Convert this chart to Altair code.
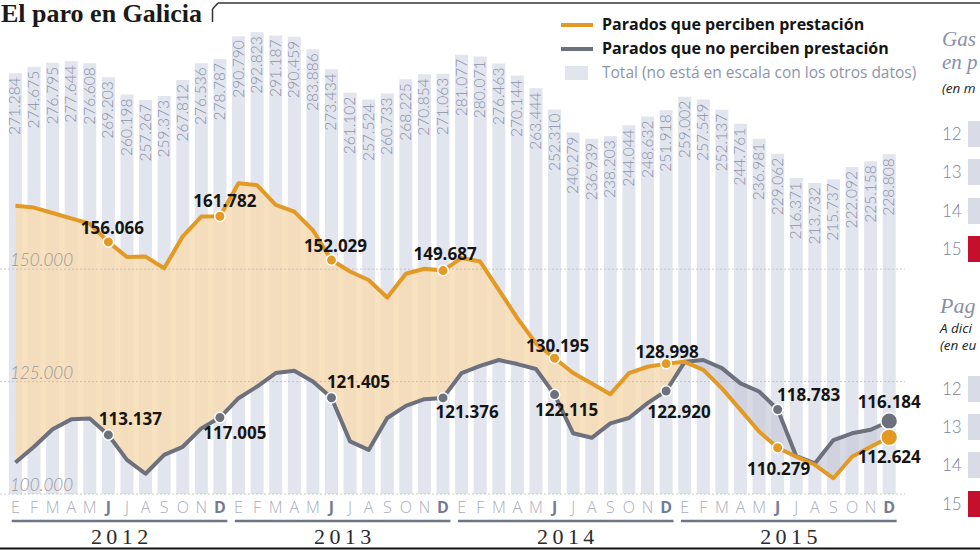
import altair as alt
import pandas as pd

# Paro registrado en Galicia, enero 2012 - diciembre 2015
meses = ["E", "F", "M", "A", "M", "J", "J", "A", "S", "O", "N", "D"]
anios = ["2012", "2013", "2014", "2015"]

total_parados = [
    271284, 274675, 276795, 277644, 276608, 269203, 260198, 257267, 259373, 267812, 276536, 278787,
    290790, 292823, 291187, 290459, 283886, 273434, 261102, 257524, 260733, 268225, 270854, 271063,
    281077, 280071, 276463, 270144, 263444, 252310, 240279, 236939, 238203, 244044, 248632, 251918,
    259002, 257549, 252137, 244761, 236981, 229062, 216371, 213732, 215737, 222092, 225158, 228808,
]
con_prestacion = [
    164100, 163700, 162500, 161300, 160100, 156066, 152700, 152800, 150200, 157300, 161700, 161782,
    169100, 168700, 164300, 162800, 158700, 152029, 149500, 147600, 143700, 149000, 150100, 149687,
    152500, 151700, 145400, 139100, 133500, 130195, 126900, 124600, 122200, 126900, 128300, 128998,
    129400, 127600, 123500, 118700, 113900, 110279, 108300, 106500, 103500, 108300, 110500, 112624,
]
sin_prestacion = [
    107000, 110500, 114400, 116600, 116800, 113137, 107600, 104500, 108700, 110500, 114600, 117005,
    121300, 123900, 126900, 127400, 125000, 121405, 111700, 109800, 116900, 119600, 121100, 121376,
    126900, 128500, 129800, 128900, 127800, 122115, 113500, 112500, 115700, 116900, 120200, 122920,
    129400, 129800, 128000, 124600, 122800, 118783, 108400, 106800, 112000, 113500, 114300, 116184,
]

guias = [150000, 125000, 100000]
guias_txt = ["150.000", "125.000", "100.000"]

leyenda = [
    "Parados que perciben prestación",
    "Parados que no perciben prestación",
    "Total (no está en escala con los otros datos)",
]
filas_panel = ["12", "13", "14", "15"]


def miles(v):
    return f"{v:,}".replace(",", ".")


df = pd.DataFrame({
    "i": list(range(48)),
    "mes": meses * 4,
    "anio": [a for a in anios for _ in range(12)],
    "total": total_parados,
    "con": con_prestacion,
    "sin": sin_prestacion,
})
df["total_txt"] = [miles(v) for v in total_parados]
df["con_txt"] = [miles(v) for v in con_prestacion]
df["sin_txt"] = [miles(v) for v in sin_prestacion]
df["clave"] = [(i % 12) in (5, 11) for i in range(48)]

df_anios = pd.DataFrame({"anio": anios, "ini": [12 * k for k in range(4)]})
df_guias = pd.DataFrame({"v": guias, "txt": guias_txt})
uno = pd.DataFrame({"k": [0]})

W, H = 905, 494
x_esc = alt.Scale(domain=[-0.56, 47.58], nice=False, zero=False)
y_linea = alt.Scale(domain=[100000, 209875], nice=False, zero=False)
y_barra = alt.Scale(domain=[50460, 309780], nice=False, zero=False)

X = alt.X("i:Q", scale=x_esc, axis=None)

NARANJA = "#e39a24"
GRIS = "#6d717e"
BARRA = "#e2e5ee"
TXT_BARRA = "#8a92a7"

base = alt.Chart(df)

barras = base.mark_bar(width=13, color=BARRA).encode(
    x=X,
    y=alt.Y("total:Q", scale=y_barra, axis=None),
    y2=alt.datum(50460),
)
barras_txt = base.mark_text(
    angle=270, align="right", baseline="middle", dx=-4,
    font="Lato", fontWeight=300, fontSize=15.5, color=TXT_BARRA,
).encode(x=X, y=alt.Y("total:Q", scale=y_barra, axis=None), text="total_txt:N")

area_con = base.transform_calculate(lo="min(datum.con, datum.sin)").mark_area(
    color="#f6dcb3", opacity=0.85
).encode(x=X, y=alt.Y("con:Q", scale=y_linea, axis=None), y2="lo:Q")
area_sin = base.transform_calculate(lo="min(datum.con, datum.sin)").mark_area(
    color="#c9ccda", opacity=0.75
).encode(x=X, y=alt.Y("sin:Q", scale=y_linea, axis=None), y2="lo:Q")

lineas_guia = alt.Chart(df_guias).mark_rule(
    color="#b4b4bc", strokeDash=[2, 2], strokeWidth=1, opacity=0.7
).encode(x=alt.value(0), x2=alt.value(W), y=alt.Y("v:Q", scale=y_linea, axis=None))
guias_lbl = alt.Chart(df_guias).mark_text(
    align="left", baseline="alphabetic", dy=-3, font="Lato", fontStyle="italic",
    fontWeight=300, fontSize=17, color="#9a989b",
).encode(x=alt.value(10), y=alt.Y("v:Q", scale=y_linea, axis=None), text="txt:N")

linea_sin = base.mark_line(color=GRIS, strokeWidth=4, strokeJoin="round").encode(
    x=X, y=alt.Y("sin:Q", scale=y_linea, axis=None))
linea_con = base.mark_line(color=NARANJA, strokeWidth=4, strokeJoin="round").encode(
    x=X, y=alt.Y("con:Q", scale=y_linea, axis=None))

puntos = []
for campo, color in (("sin", GRIS), ("con", NARANJA)):
    puntos.append(
        base.transform_filter("datum.clave && datum.i < 47").mark_point(
            filled=True, color=color, size=110, stroke="white", strokeWidth=1.5, opacity=1
        ).encode(x=X, y=alt.Y(f"{campo}:Q", scale=y_linea, axis=None))
    )
    puntos.append(
        base.transform_filter("datum.i == 47").mark_point(
            filled=True, color=color, size=280, stroke="white", strokeWidth=1.5, opacity=1
        ).encode(x=X, y=alt.Y(f"{campo}:Q", scale=y_linea, axis=None))
    )

# desplazamiento de cada rótulo respecto a su punto
desp_con = {5: (4, -13), 11: (5, -14), 17: (4, -13), 23: (2, -16),
            29: (3, -11), 35: (1, -11), 41: (1, 22), 47: (0, 21)}
desp_sin = {5: (22, -15), 11: (15, 16), 17: (27, -15), 23: (24, 15),
            29: (12, 16), 35: (13, 22), 41: (31, -14), 47: (0, -18)}
rotulos = []
for campo, desp in (("con", desp_con), ("sin", desp_sin)):
    for i, (dx, dy) in desp.items():
        rotulos.append(
            base.transform_filter(f"datum.i == {i}").mark_text(
                dx=dx, dy=dy, font="Open Sans", fontWeight="bold", fontSize=17,
                color="#141414", baseline="middle", align="center",
            ).encode(x=X, y=alt.Y(f"{campo}:Q", scale=y_linea, axis=None), text=f"{campo}_txt:N")
        )

mes_normal = base.transform_filter("!datum.clave").mark_text(
    font="Open Sans", fontWeight=300, fontSize=16, color="#a7adbb", baseline="middle"
).encode(x=X, y=alt.value(508), text="mes:N")
mes_negrita = base.transform_filter("datum.clave").mark_text(
    font="Open Sans", fontWeight="bold", fontSize=16, color="#747c93", baseline="middle"
).encode(x=X, y=alt.value(508), text="mes:N")

anio_linea = alt.Chart(df_anios).transform_calculate(
    a="datum.ini - 0.2", b="datum.ini + 11.4"
).mark_rule(color="#6f7689", strokeWidth=2.5).encode(
    x=alt.X("a:Q", scale=x_esc, axis=None), x2="b:Q", y=alt.value(521))
anio_txt = alt.Chart(df_anios).transform_calculate(
    c="datum.ini + 5.6",
    t="join(split(datum.anio, ''), '\u2009')",
).mark_text(
    font="Liberation Serif", fontSize=22, color="#2a2a2a", baseline="middle"
).encode(x=alt.X("c:Q", scale=x_esc, axis=None), y=alt.value(537), text="t:N")


def texto(t, x, y, **kw):
    return alt.Chart(uno).mark_text(text=t, **kw).encode(x=alt.value(x), y=alt.value(y))


def regla(x, x2, y, y2, **kw):
    return alt.Chart(uno).mark_rule(**kw).encode(
        x=alt.value(x), x2=alt.value(x2), y=alt.value(y), y2=alt.value(y2))


def caja(x, x2, y, y2, color):
    return alt.Chart(uno).mark_rect(color=color).encode(
        x=alt.value(x), x2=alt.value(x2), y=alt.value(y), y2=alt.value(y2))


extras = [
    texto("El paro en Galicia", 1, 22, font="Liberation Serif", fontWeight="bold",
          fontSize=26, color="#1a1a1a", align="left", baseline="alphabetic"),
    regla(212.5, 212.5, 9, 22, color="#333333", strokeWidth=1.5),
    regla(218, 990, 3, 3, color="#333333", strokeWidth=1.5),
    regla(212.5, 218, 9, 3, color="#333333", strokeWidth=1.5),
    regla(0, 990, 548.5, 548.5, color="#111111", strokeWidth=2),
    regla(561, 593, 25, 25, color=NARANJA, strokeWidth=4),
    regla(561, 593, 49, 49, color=GRIS, strokeWidth=4),
    caja(565, 588, 66, 80, BARRA),
    texto(leyenda[0], 602, 25, font="Open Sans", fontWeight="bold", fontSize=16,
          color="#141414", align="left", baseline="middle"),
    texto(leyenda[1], 602, 49, font="Open Sans", fontWeight="bold", fontSize=16,
          color="#141414", align="left", baseline="middle"),
    texto(leyenda[2], 602, 73, font="Open Sans", fontSize=15.5, color="#8d95a9",
          align="left", baseline="middle"),
    # panel lateral
    texto("Gas", 942, 46, font="Liberation Serif", fontStyle="italic", fontSize=21,
          color="#8890aa", align="left", baseline="alphabetic"),
    texto("en p", 942, 69, font="Liberation Serif", fontStyle="italic", fontSize=21,
          color="#8890aa", align="left", baseline="alphabetic"),
    texto("(en m", 942, 89, font="Open Sans", fontStyle="italic", fontSize=13.5,
          color="#222222", align="left", baseline="middle"),
    texto("Pag", 940, 313, font="Liberation Serif", fontStyle="italic", fontSize=22,
          color="#8890aa", align="left", baseline="alphabetic"),
    texto("A dici", 940, 329, font="Open Sans", fontStyle="italic", fontSize=13.5,
          color="#222222", align="left", baseline="middle"),
    texto("(en eu", 940, 346, font="Open Sans", fontStyle="italic", fontSize=13.5,
          color="#222222", align="left", baseline="middle"),
]
for centros in ([134, 172, 211, 249], [389, 427, 465, 504]):
    for fila, c in zip(filas_panel, centros):
        color = "#c4102c" if fila == "15" else "#d9dce6"
        extras.append(caja(968, 990, c - 13, c + 13, color))
        extras.append(texto(fila, 942, c + 1, font="Lato", fontWeight=300, fontSize=17,
                            color="#7c859c", align="left", baseline="middle"))

capas = [barras, barras_txt, area_con, area_sin, lineas_guia, guias_lbl,
         linea_sin, linea_con] + puntos + rotulos + [
    mes_normal, mes_negrita, anio_linea, anio_txt] + extras

chart = alt.layer(*capas).resolve_scale(y="independent").properties(
    width=W, height=H,
    autosize=alt.AutoSizeParams(type="none"),
    padding={"left": 0, "top": 0, "right": 980 - W, "bottom": 550 - H},
    background="white",
).configure_view(stroke=None)

chart.save("out.html", embed_options={"renderer": "svg", "actions": False})
